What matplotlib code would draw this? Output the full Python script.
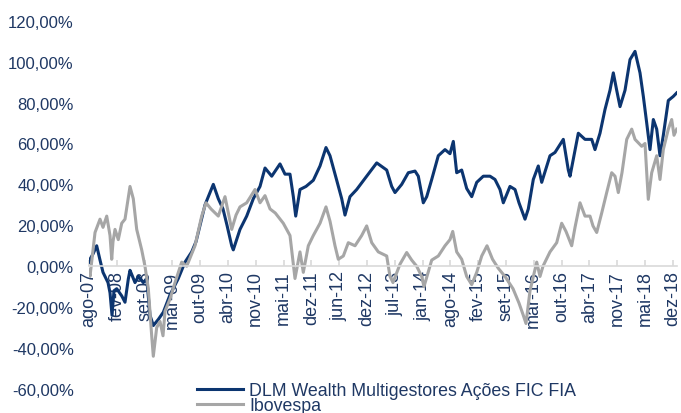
import matplotlib
matplotlib.use("Agg")
import matplotlib.pyplot as plt
from matplotlib.ticker import FuncFormatter

plt.rcParams["font.family"] = ["Liberation Sans", "DejaVu Sans"]

# x = months since ago-07, y = accumulated return in %
dlm_months = [
    0.0, 0.23, 0.94, 1.80, 2.58, 3.28, 4.45, 4.92, 5.39, 5.85, 6.49, 7.66, 8.43,
    9.20, 9.60, 10.0, 10.77, 11.55, 12.72, 13.51, 14.29, 15.06, 16.23, 17.40,
    18.97, 20.91, 22.48, 24.05, 25.06, 26.0, 27.17, 29.11, 30.28, 31.38, 32.32,
    33.42, 33.79, 35.36, 36.93, 38.48, 40.05, 41.22, 42.79, 44.73, 45.90, 47.07,
    47.85, 48.41, 49.41, 50.82, 52.53, 54.10, 55.50, 56.44, 58.01, 59.18, 59.95,
    61.12, 62.69, 65.03, 67.38, 69.72, 70.89, 71.66, 73.23, 74.78, 76.35, 77.12,
    78.29, 79.09, 80.26, 81.80, 83.37, 84.54, 85.32, 86.11, 87.28, 88.45, 89.63,
    90.80, 92.34, 93.91, 95.08, 96.25, 97.03, 98.59, 99.77, 100.70, 102.11,
    102.88, 104.05, 105.22, 106.02, 107.96, 109.13, 111.08, 112.25, 112.65,
    114.59, 116.16, 117.73, 118.50, 119.67, 120.84, 122.01, 122.79, 123.58,
    124.36, 125.53, 126.70, 127.87, 129.04, 129.82, 130.61, 131.38, 132.16,
    132.95, 133.72, 134.50, 135.67, 136.84, 137.63,
]
dlm_values = [
    2, 3.4, 6, 10, 3, -3, -8, -13, -24, -12, -11, -14.5, -17.6,
    -6.3, -2, -4, -8, -5, -8, -6, -24, -29, -26, -22.5,
    -14, -6, 2, 7, 12, 20, 30, 40, 33, 28, 20,
    10, 8, 18, 24.5, 33, 39, 48, 44, 50, 45, 45,
    34, 24.5, 37.5, 39, 42, 49, 58, 54, 42, 33, 25,
    34, 37.5, 44, 50.5, 47, 39, 36, 40, 45.7, 46.5, 44,
    31, 34, 42.4, 54, 57, 55, 61, 45.7, 47, 38, 34,
    41, 44, 44, 42.4, 37.5, 31, 39, 37.5, 31, 23,
    28, 42.4, 49, 41, 54, 55.6, 62, 47, 44,
    65, 62, 62, 57, 65, 76.6, 86, 94.5, 86,
    78, 86, 101, 105, 94.5, 83, 70, 57, 71.7,
    67, 54, 64, 81, 83, 84.7,
]

ibov_months = [
    0.0, 0.23, 1.41, 2.58, 3.28, 4.15, 4.92, 5.32, 5.62, 6.09, 6.86, 7.66, 8.43,
    9.60, 10.37, 11.17, 12.34, 13.11, 13.89, 14.68, 15.06, 15.85, 16.63, 17.33,
    17.80, 18.97, 20.14, 21.71, 22.88, 24.82, 26.39, 27.40, 28.57, 30.28, 31.85,
    33.42, 34.43, 35.36, 36.93, 38.88, 40.05, 41.22, 42.39, 43.63, 45.50, 47.07,
    48.24, 49.41, 50.19, 51.36, 52.53, 54.10, 55.50, 56.44, 57.61, 58.38, 59.56,
    60.73, 62.30, 63.86, 65.03, 66.21, 67.75, 69.72, 70.49, 71.19, 72.83, 74.40,
    75.57, 76.74, 77.92, 78.45, 80.26, 81.80, 83.37, 84.54, 85.18, 86.11, 87.28,
    88.45, 89.63, 90.80, 91.97, 93.21, 94.50, 95.85, 97.42, 99.30, 100.70,
    101.71, 102.34, 103.28, 104.85, 105.62, 106.32, 107.96, 109.53, 110.70,
    111.71, 113.04, 113.82, 114.99, 116.16, 117.33, 118.03, 118.90, 120.07,
    121.24, 122.41, 123.19, 123.96, 124.82, 125.93, 127.10, 127.87, 129.44,
    130.21, 130.98, 131.78, 132.95, 133.72, 134.50, 135.67, 136.46, 137.0, 137.63,
]
ibov_values = [
    -2, -5, 16.5, 23, 19, 24.5, 15, 3.4, 12, 18, 13, 21, 23,
    39, 33, 18, 8, 0, -11, -34, -44, -30, -27, -34,
    -22, -16, -8, 2, 0, 10, 24.5, 31, 28, 24.5, 34,
    18, 25, 29, 31, 37.5, 31, 34.5, 28, 26, 21, 15,
    -6, 7, -3, 10, 15, 21, 29, 22, 10, 3.4, 5,
    11.5, 10, 15, 19.7, 11.5, 7, 5, -5, -8, 1, 6.7,
    3, 0, -5, -10, 3, 5, 10, 13, 17, 7, 3.4,
    -5, -9, -3, 5, 10, 3.4, -1, -5, -11, -18,
    -24, -28, -12, 2, -5, 0, 7, 11.5, 21,
    17, 10, 19, 31, 24.5, 24.5, 19.7, 16.5, 26,
    36, 45.7, 44, 36, 45.7, 62, 67, 62, 58.6,
    60, 32.7, 45.7, 54, 42.4, 57, 67, 71.7, 64, 67,
]

tick_labels = [
    "ago-07", "fev-08", "set-08", "mar-09", "out-09", "abr-10", "nov-10",
    "mai-11", "dez-11", "jun-12", "dez-12", "jul-13", "jan-14", "ago-14",
    "fev-15", "set-15", "mar-16", "out-16", "abr-17", "nov-17", "mai-18",
    "dez-18",
]
y_ticks = [-60, -40, -20, 0, 20, 40, 60, 80, 100, 120]

NAVY_LINE = "#0C3570"
GRAY_LINE = "#A6A6A6"
TEXT = "#1F3864"

fig = plt.figure(figsize=(6.81, 4.14), dpi=100)
ax = fig.add_axes([0.1307, 0.058, 0.8634, 0.8896])

ax.plot(dlm_months, dlm_values, color=NAVY_LINE, lw=2.2,
        label="DLM Wealth Multigestores Ações FIC FIA")
ax.plot(ibov_months, ibov_values, color=GRAY_LINE, lw=2.2, label="Ibovespa")

# spine first: moving it resets the tick objects
for side in ("left", "right", "top"):
    ax.spines[side].set_visible(False)
ax.spines["bottom"].set_position(("data", 0))
ax.spines["bottom"].set_color("#D9D9D9")
ax.spines["bottom"].set_linewidth(1.2)

ax.set_xlim(0, 137.7)
ax.set_ylim(-60, 120)

# Excel date axis: one label every ~198 days (about 6.5 months)
step = 6.51
ax.set_xticks([i * step for i in range(len(tick_labels))])
ax.set_xticklabels(tick_labels, rotation=90, fontsize=13, color=TEXT)
ax.set_yticks(y_ticks)
ax.yaxis.set_major_formatter(
    FuncFormatter(lambda v, _: f"{v:.2f}%".replace(".", ",")))

ax.tick_params(axis="x", direction="in", length=4, width=1.2,
               color="#D9D9D9", pad=3)
ax.tick_params(axis="y", length=0, pad=11, labelsize=12, labelcolor=TEXT)

fig.legend(loc="upper left", bbox_to_anchor=(197 / 681, 31 / 414),
           frameon=False, fontsize=12.8, labelcolor=TEXT,
           handlelength=2.6, handletextpad=0.35, labelspacing=-0.1,
           borderpad=0, borderaxespad=0)

fig.savefig("out.png", dpi=100)
plt.close(fig)
